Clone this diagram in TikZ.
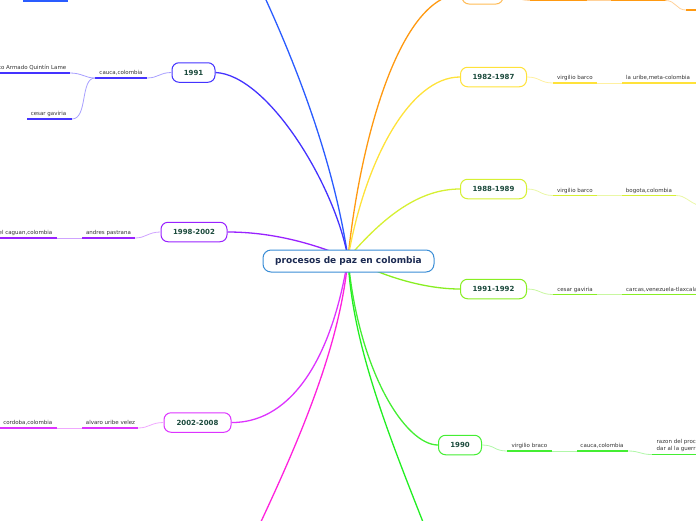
\documentclass[tikz,border=0pt]{standalone}
\usepackage{fontspec}
\setmainfont{DejaVu Sans}
\usetikzlibrary{backgrounds}
\definecolor{yeartext}{HTML}{1B4A3C}
\definecolor{centertext}{HTML}{1B2A52}
\definecolor{subtext}{HTML}{333333}
\definecolor{cblue}{HTML}{3A8DD6}
\definecolor{bluemain}{HTML}{2A5CFF}
\definecolor{orangemain}{HTML}{FF9911}
\definecolor{orangelight}{HTML}{FFD199}
\definecolor{orangebox}{HTML}{FFBB55}
\definecolor{yelmain}{HTML}{FFE23A}
\definecolor{yellight}{HTML}{FFF0A0}
\definecolor{ygmain}{HTML}{D6F033}
\definecolor{yglight}{HTML}{EAF7A6}
\definecolor{limemain}{HTML}{88EE22}
\definecolor{limelight}{HTML}{C8F7A0}
\definecolor{grmain}{HTML}{44EE33}
\definecolor{grlight}{HTML}{B0F7A8}
\definecolor{greenmain}{HTML}{22EE22}
\definecolor{magmain}{HTML}{FF22DD}
\definecolor{pinkmain}{HTML}{DD33FF}
\definecolor{pinklight}{HTML}{F0A8FF}
\definecolor{purmain}{HTML}{9922FF}
\definecolor{purlight}{HTML}{CFA3FF}
\definecolor{vmain}{HTML}{4433FF}
\definecolor{vlight}{HTML}{A8A0FF}
\tikzset{
  yearbox/.style={draw, fill=white, rounded corners=7pt, line width=1pt,
    minimum height=19.5pt, inner xsep=0pt, font=\bfseries\fontsize{7}{8}\selectfont, text=yeartext},
  centerbox/.style={draw=cblue, fill=white, rounded corners=8pt, line width=1pt,
    minimum width=171pt, minimum height=22pt, font=\bfseries\fontsize{9}{10}\selectfont, text=centertext},
  sub/.style={font=\fontsize{5.5}{6.5}\selectfont, text=subtext, inner sep=0pt, anchor=base},
  uline/.style={line width=1.8pt},
  link/.style={line width=0.8pt},
  mainline/.style={line width=1.3pt},
}
\begin{document}
\begin{tikzpicture}[x=1pt,y=-1pt]
\useasboundingbox (0,0) rectangle (696,520);
% nodes
\node[centerbox] (c) at (348.5,261) {procesos de paz en colombia};
\coordinate (hub) at (348,258);
\node[yearbox, draw=vmain, minimum width=43pt] (n91) at (193.5,72.5) {1991};
\node[yearbox, draw=purmain, minimum width=66pt] (n98) at (194,232) {1998-2002};
\node[yearbox, draw=pinkmain, minimum width=67pt] (n02) at (197.5,422.5) {2002-2008};
\node[yearbox, draw=grmain, minimum width=43pt] (n90) at (460,445) {1990};
\node[yearbox, draw=limemain, minimum width=66pt] (n9192) at (493.5,289) {1991-1992};
\node[yearbox, draw=ygmain, minimum width=66pt] (n8889) at (493.5,189) {1988-1989};
\node[yearbox, draw=yelmain, minimum width=66pt] (n8287) at (493.5,77) {1982-1987};
\node[yearbox, draw=orangebox, minimum width=41pt, minimum height=20pt] (nor) at (482.5,-6) {};
% off-canvas ends
\coordinate (blueend) at (252,-30);
\coordinate (magend) at (250,545);
\coordinate (greenend) at (432,545);
\begin{pgfonlayer}{background}
% main branches
\draw[mainline, bluemain] (hub) .. controls (332,150) and (288,45) .. (blueend);
\draw[mainline, orangemain] (hub) .. controls (360,140) and (400,-6) .. (nor.west);
\draw[mainline, yelmain] (hub) .. controls (365,160) and (410,77) .. (n8287.west);
\draw[mainline, ygmain] (hub) .. controls (385,215) and (420,189) .. (n8889.west);
\draw[mainline, limemain] (hub) .. controls (390,280) and (430,289) .. (n9192.west);
\draw[mainline, grmain] (hub) .. controls (358,370) and (405,445) .. (n90.west);
\draw[mainline, greenmain] (hub) .. controls (352,350) and (395,450) .. (greenend);
\draw[mainline, magmain] (hub) .. controls (340,350) and (295,450) .. (magend);
\draw[mainline, pinkmain] (hub) .. controls (330,370) and (285,423) .. (n02.east);
\draw[mainline, purmain] (hub) .. controls (300,238) and (260,232) .. (n98.east);
\draw[mainline, vmain] (hub) .. controls (335,185) and (268,75) .. (n91.east);
\end{pgfonlayer}
% ---- 1991 branch
\coordinate (a1) at (147,78); \coordinate (a0) at (95,78);
\coordinate (b1) at (70,73); \coordinate (b0) at (-5,73);
\coordinate (d1) at (72,119); \coordinate (d0) at (27,119);
\draw[link, vlight] (n91.west) .. controls (160,72.5) and (158,78) .. (a1);
\draw[uline, vmain] (a0) -- (a1);
\draw[link, vlight] (a0) .. controls (85,78) and (82,73) .. (b1);
\draw[link, vlight] (a0) .. controls (80,78) and (88,119) .. (d1);
\draw[uline, vmain] (b0) -- (b1);
\draw[uline, vmain] (d0) -- (d1);
\node[sub] (t1) at (121,74.5) {cauca,colombia};
\node[sub, anchor=base east] (t2) at (66.5,69.5) {Movimiento Armado Quintín Lame};
\node[sub] (t3) at (48.5,115.5) {cesar gaviria};
% ---- 1998-2002
\coordinate (e1) at (135,238); \coordinate (e0) at (82,238);
\coordinate (f1) at (57,238); \coordinate (f0) at (-5,238);
\draw[link, purlight] (n98.west) .. controls (148,232) and (146,238) .. (e1);
\draw[uline, purmain] (e0) -- (e1);
\draw[link, purlight] (f1) -- (e0);
\draw[uline, purmain] (f0) -- (f1);
\node[sub] (t4) at (108.5,234.5) {andres pastrana};
\node[sub, anchor=base east] (t5) at (52.5,234.5) {san vicente del caguan,colombia};
% ---- 2002-2008
\coordinate (g1) at (138,428); \coordinate (g0) at (82,428);
\coordinate (h1) at (57,428); \coordinate (h0) at (-5,428);
\draw[link, pinklight] (n02.west) .. controls (151,422.5) and (149,428) .. (g1);
\draw[uline, pinkmain] (g0) -- (g1);
\draw[link, pinklight] (h1) -- (g0);
\draw[uline, pinkmain] (h0) -- (h1);
\node[sub] (t6) at (110.5,424.5) {alvaro uribe velez};
\node[sub, anchor=base east] (t7) at (52.5,424.5) {cordoba,colombia};
% ---- top-left blue stub
\coordinate (k0) at (23,1); \coordinate (k1) at (68,1);
\draw[uline, bluemain] (k0) -- (k1);
% ---- orange
\coordinate (o0) at (530,0.5); \coordinate (o1) at (586.5,0.5);
\coordinate (o2) at (611,0.5); \coordinate (o3) at (665.5,0.5);
\coordinate (o4) at (686,10); \coordinate (o5) at (700,10);
\draw[link, orangelight] (nor.east) .. controls (516,-6) and (516,0.5) .. (o0);
\draw[uline, orangemain] (o0) -- (o1);
\draw[link, orangelight] (o1) -- (o2);
\draw[uline, orangemain] (o2) -- (o3);
\draw[link, orangelight] (o3) .. controls (676,0.5) and (676,10) .. (o4);
\draw[uline, orangemain] (o4) -- (o5);
% ---- 1982-1987
\coordinate (p0) at (553,83); \coordinate (p1) at (597,83);
\coordinate (p2) at (622,83); \coordinate (p3) at (700,83);
\draw[link, yellight] (n8287.east) .. controls (540,77) and (540,83) .. (p0);
\draw[uline, yelmain] (p0) -- (p1);
\draw[link, yellight] (p1) -- (p2);
\draw[uline, yelmain] (p2) -- (p3);
\node[sub] (t8) at (575,79.5) {virgilio barco};
\node[sub, anchor=base west] (t9) at (626,79.5) {la uribe,meta-colombia};
% ---- 1988-1989
\coordinate (q0) at (553,195.5); \coordinate (q1) at (597,195.5);
\coordinate (q2) at (622,195.5); \coordinate (q3) at (676,195.5);
\coordinate (q4) at (700,206);
\draw[link, yglight] (n8889.east) .. controls (540,189) and (540,195.5) .. (q0);
\draw[uline, ygmain] (q0) -- (q1);
\draw[link, yglight] (q1) -- (q2);
\draw[uline, ygmain] (q2) -- (q3);
\draw[link, yglight] (q3) .. controls (686,195.5) and (688,202) .. (q4);
\node[sub] (t10) at (575,192) {virgilio barco};
\node[sub] (t11) at (649,192) {bogota,colombia};
% ---- 1991-1992
\coordinate (r0) at (553,294.5); \coordinate (r1) at (597,294.5);
\coordinate (r2) at (622,294.5); \coordinate (r3) at (700,294.5);
\draw[link, limelight] (n9192.east) .. controls (540,289) and (540,294.5) .. (r0);
\draw[uline, limemain] (r0) -- (r1);
\draw[link, limelight] (r1) -- (r2);
\draw[uline, limemain] (r2) -- (r3);
\node[sub] (t12) at (575,291) {cesar gaviria};
\node[sub, anchor=base west] (t13) at (626,291) {carcas,venezuela-tlaxcala};
% ---- 1990
\coordinate (s0) at (507,451); \coordinate (s1) at (552,451);
\coordinate (s2) at (577,451); \coordinate (s3) at (628,451);
\coordinate (s4) at (652,454.5); \coordinate (s5) at (700,454.5);
\draw[link, grlight] (n90.east) .. controls (495,445) and (494,451) .. (s0);
\draw[uline, grmain] (s0) -- (s1);
\draw[link, grlight] (s1) -- (s2);
\draw[uline, grmain] (s2) -- (s3);
\draw[link, grlight] (s3) .. controls (640,451) and (640,454.5) .. (s4);
\draw[uline, grmain] (s4) -- (s5);
\node[sub] (t14) at (529.5,447.5) {virgilio braco};
\node[sub] (t15) at (602,447.5) {cauca,colombia};
\node[sub, anchor=south west, align=left, inner sep=0pt] (t16) at (656.5,451.5) {razon del proceso:\\dar al la guerrilla};
\end{tikzpicture}
\end{document}
